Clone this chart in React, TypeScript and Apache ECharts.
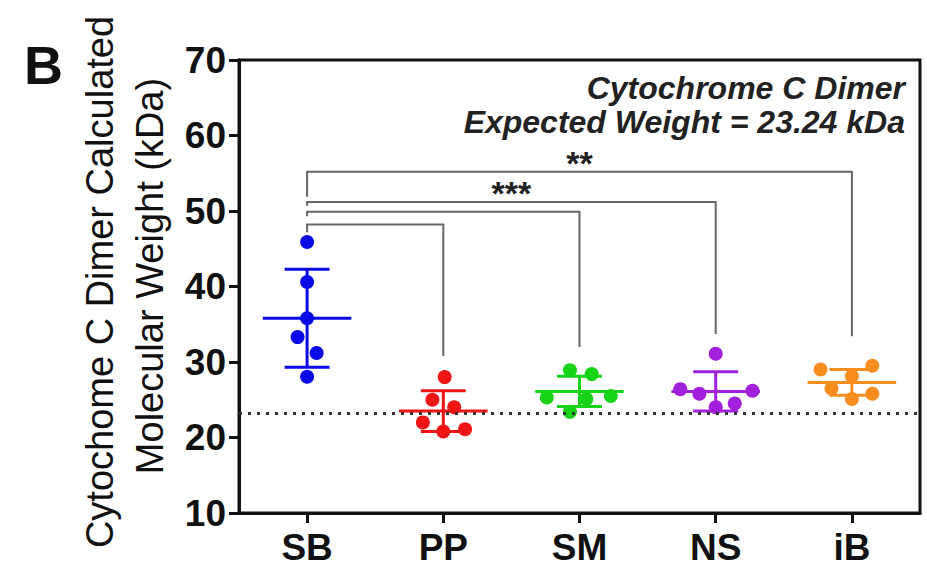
import React, { useEffect, useRef } from "react";
import * as echarts from "echarts";

const categories = ["SB", "PP", "SM", "NS", "iB"];
const colors = ["#0a0ae6", "#ee1515", "#18d418", "#a21fdc", "#f78d1e"];

const sbValues = [45.9, 40.6, 35.8, 33.3, 31.2, 28.05];
const ppValues = [28.0, 25.0, 24.0, 22.0, 20.8, 21.1];
const smValues = [28.9, 28.4, 25.3, 25.1, 25.5, 23.4];
const nsValues = [31.1, 26.4, 25.8, 26.2, 24.0, 24.5];
const ibValues = [29.0, 29.5, 26.5, 28.1, 25.8, 25.1];

const sbJitter = [0, 0, 0, -0.07, 0.07, 0];
const ppJitter = [0.01, -0.08, 0.08, -0.15, 0, 0.16];
const smJitter = [-0.07, 0.09, -0.24, 0.05, 0.23, -0.07];
const nsJitter = [0, -0.26, -0.12, 0.27, 0, 0.14];
const ibJitter = [-0.23, 0.15, -0.15, 0, 0.15, 0];

const groupValues = [sbValues, ppValues, smValues, nsValues, ibValues];
const groupJitter = [sbJitter, ppJitter, smJitter, nsJitter, ibJitter];

const means = [35.8, 23.5, 26.1, 26.1, 27.3];
const sds = [6.5, 2.7, 2.0, 2.6, 1.7];

const expectedWeight = 23.24;

const bracketTargets = [1, 2, 3, 4];
const bracketLevels = [48.2, 49.9, 51.2, 55.2];
const bracketLeftBottoms = [47.2, 49.3, 50.7, 51.9];
const bracketRightBottoms = [30.8, 32.0, 33.7, 33.4];
const bracketLabels = ["", "", "***", "**"];

const yTicks = [10, 20, 30, 40, 50, 60, 70];

const titleLines = ["Cytochome C Dimer Calculated", "Molecular Weight (kDa)"];
const noteLines = ["Cytochrome C Dimer", "Expected Weight = 23.24 kDa"];

const FONT = "'Liberation Sans', Arial, Helvetica, sans-serif";

export default function App() {
  const ref = useRef<HTMLDivElement>(null);
  useEffect(() => {
    if (!ref.current) return;
    const chart = echarts.init(ref.current, undefined, { renderer: "svg" });

    const scatterSeries = groupValues.map((vals, g) => ({
      type: "scatter",
      name: categories[g],
      xAxisIndex: 1,
      yAxisIndex: 0,
      symbol: "circle",
      symbolSize: 14,
      itemStyle: { color: colors[g], opacity: 1 },
      z: 3,
      data: vals.map((v, k) => [g + groupJitter[g][k], v]),
      ...(g === 0
        ? {
            markLine: {
              silent: true,
              symbol: "none",
              label: { show: false },
              lineStyle: { type: [3, 6], color: "#333", width: 3 },
              data: [{ yAxis: expectedWeight }],
            },
          }
        : {}),
    }));

    const errorSeries = {
      type: "custom",
      xAxisIndex: 1,
      yAxisIndex: 0,
      z: 4,
      data: means.map((m, i) => [i, m, sds[i]]),
      renderItem: (params: any, api: any) => {
        const i = api.value(0);
        const m = api.value(1);
        const s = api.value(2);
        const c = api.coord([i, m]);
        const top = api.coord([i, m + s]);
        const bot = api.coord([i, m - s]);
        const unit = api.size([1, 0])[0];
        const meanHalf = unit * 0.325;
        const capHalf = unit * 0.165;
        const color = colors[params.dataIndex];
        const st = { stroke: color, lineWidth: 3 };
        return {
          type: "group",
          children: [
            { type: "line", shape: { x1: c[0] - meanHalf, y1: c[1], x2: c[0] + meanHalf, y2: c[1] }, style: st },
            { type: "line", shape: { x1: c[0], y1: top[1], x2: c[0], y2: bot[1] }, style: st },
            { type: "line", shape: { x1: c[0] - capHalf, y1: top[1], x2: c[0] + capHalf, y2: top[1] }, style: st },
            { type: "line", shape: { x1: c[0] - capHalf, y1: bot[1], x2: c[0] + capHalf, y2: bot[1] }, style: st },
          ],
        };
      },
    };

    const bracketSeries = {
      type: "custom",
      xAxisIndex: 1,
      yAxisIndex: 0,
      z: 2,
      data: bracketTargets.map((t, i) => [t, bracketLevels[i], bracketLeftBottoms[i], bracketRightBottoms[i]]),
      renderItem: (params: any, api: any) => {
        const t = api.value(0);
        const lvl = api.value(1);
        const lb = api.value(2);
        const rb = api.value(3);
        const p1 = api.coord([0, lb]);
        const p2 = api.coord([0, lvl]);
        const p3 = api.coord([t, lvl]);
        const p4 = api.coord([t, rb]);
        const label = bracketLabels[params.dataIndex];
        const children: any[] = [
          {
            type: "polyline",
            shape: { points: [p1, p2, p3, p4] },
            style: { stroke: "#666", lineWidth: 2, fill: null },
          },
        ];
        if (label) {
          children.push({
            type: "text",
            x: (p2[0] + p3[0]) / 2,
            y: p2[1] - 9,
            style: {
              text: label,
              fill: "#222",
              font: `bold 34px ${FONT}`,
              align: "center",
              verticalAlign: "middle",
            },
          });
        }
        return { type: "group", children };
      },
    };

    chart.setOption({
      animation: false,
      grid: {
        left: 239,
        right: 7,
        top: 60,
        bottom: 61,
        show: true,
        borderColor: "#111",
        borderWidth: 3,
        containLabel: false,
      },
      xAxis: [
        {
          type: "category",
          data: categories,
          boundaryGap: true,
          axisLine: { show: true, lineStyle: { color: "#111", width: 3 } },
          axisTick: { show: true, alignWithLabel: true, length: 10, lineStyle: { color: "#111", width: 3 } },
          axisLabel: { color: "#111", fontSize: 37, fontWeight: "bold", fontFamily: FONT, margin: 16 },
          splitLine: { show: false },
        },
        {
          type: "value",
          min: -0.5,
          max: 4.5,
          show: false,
          splitLine: { show: false },
        },
      ],
      yAxis: {
        type: "value",
        min: yTicks[0],
        max: yTicks[yTicks.length - 1],
        interval: 10,
        axisLine: { show: true, onZero: false, lineStyle: { color: "#111", width: 3 } },
        axisTick: { show: true, length: 10, lineStyle: { color: "#111", width: 3 } },
        axisLabel: { color: "#111", fontSize: 37, fontWeight: "bold", fontFamily: FONT, margin: 13 },
        splitLine: { show: false },
      },
      graphic: [
        {
          type: "text",
          left: 24,
          top: 38,
          style: { text: "B", fill: "#111", font: `bold 54px ${FONT}` },
        },
        {
          type: "text",
          x: 100,
          y: 282,
          rotation: Math.PI / 2,
          style: {
            text: titleLines[0],
            fill: "#111",
            font: `38px ${FONT}`,
            align: "center",
            verticalAlign: "middle",
          },
        },
        {
          type: "text",
          x: 150,
          y: 276,
          rotation: Math.PI / 2,
          style: {
            text: titleLines[1],
            fill: "#111",
            font: `38px ${FONT}`,
            align: "center",
            verticalAlign: "middle",
          },
        },
        {
          type: "text",
          x: 905,
          y: 88,
          style: {
            text: noteLines[0],
            fill: "#222",
            font: `italic bold 32px ${FONT}`,
            align: "right",
            verticalAlign: "middle",
          },
        },
        {
          type: "text",
          x: 905,
          y: 122,
          style: {
            text: noteLines[1],
            fill: "#222",
            font: `italic bold 32px ${FONT}`,
            align: "right",
            verticalAlign: "middle",
          },
        },
      ],
      series: [bracketSeries, ...scatterSeries, errorSeries],
    });

    return () => chart.dispose();
  }, []);

  return (
    <div
      ref={ref}
      style={{ position: "fixed", left: 0, top: 0, width: 927, height: 574, background: "#fff" }}
    />
  );
}
